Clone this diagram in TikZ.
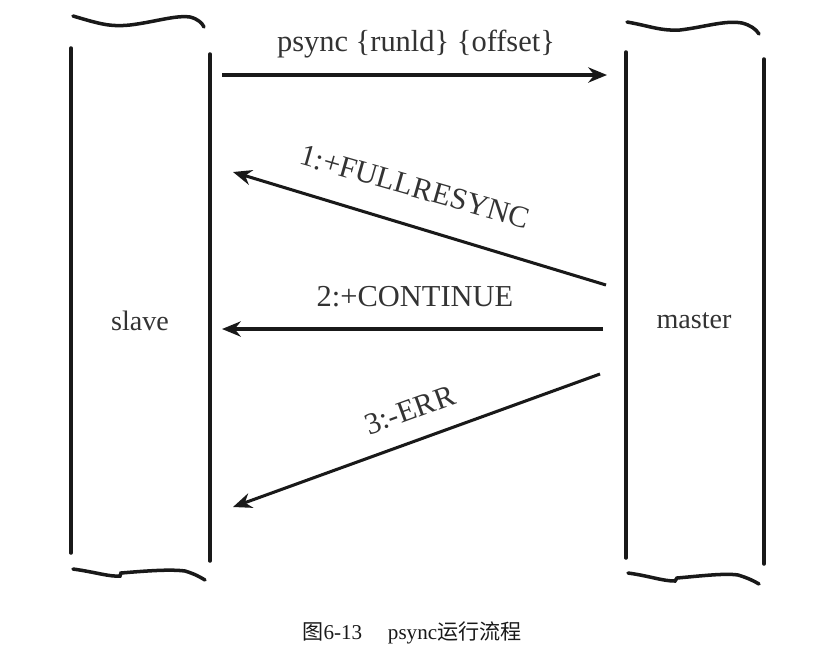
\documentclass[tikz,border=0pt]{standalone}
\usepackage{fontspec}
\setmainfont{Liberation Serif}
\newfontfamily\cjk{Noto Sans CJK SC}
\usetikzlibrary{arrows.meta}

\begin{document}
\begin{tikzpicture}[
  x=0.03cm, y=-0.03cm,
  >={Stealth[length=16pt, width=13pt]},
  scroll/.style={line width=3pt, line cap=round, black!90},
  msg/.style={line width=2.6pt, black!90, ->},
  lbl/.style={font=\fontsize{24}{28}\selectfont, text=black!80, inner sep=2pt},
  msglbl/.style={lbl, font=\fontsize{26}{30}\selectfont},
  caption/.style={font=\fontsize{18}{22}\selectfont, text=black!90}
]
\useasboundingbox (0,0) rectangle (820,660);

% Slave scroll
\draw[scroll] (73,16) .. controls (100,24) and (110,27) .. (130,25)
  .. controls (155,22) and (175,15) .. (190,17) .. controls (198,19) and (202,23) .. (204,27);
\draw[scroll] (71,48) -- (71,553);
\draw[scroll] (210,54) -- (210,561);
\draw[scroll] (73,569) .. controls (95,572) and (110,577) .. (120,576) -- (121,573)
  .. controls (145,571) and (170,569) .. (185,571) .. controls (195,574) and (200,577) .. (205,580);

% Master scroll
\draw[scroll] (627,22) .. controls (650,26) and (660,31) .. (680,30)
  .. controls (705,27) and (725,20) .. (742,23) .. controls (750,25) and (756,29) .. (759,34);
\draw[scroll] (626,52) -- (626,558);
\draw[scroll] (764,59) -- (764,564);
\draw[scroll] (628,573) .. controls (650,576) and (662,581) .. (675,581) -- (677,578)
  .. controls (700,576) and (725,573) .. (738,575) .. controls (748,578) and (754,581) .. (759,584);

% Side labels
\node[lbl] (slave) at (140,321) {slave};
\node[lbl] (master) at (694,321) {master};

% Message end points
\coordinate (s0) at (222,75);   \coordinate (m0) at (607,75);
\coordinate (s1) at (233,172);  \coordinate (m1) at (606,285);
\coordinate (s2) at (222,329);  \coordinate (m2) at (603,329);
\coordinate (s3) at (233,507);  \coordinate (m3) at (600,374);

% Messages
\draw[msg] (s0) -- (m0);
\draw[msg] (m1) -- (s1);
\draw[msg] (m2) -- (s2);
\draw[msg] (m3) -- (s3);

\node[msglbl] (req) at (416,44) {psync \{runld\} \{offset\}};
\node[msglbl, rotate=-16] (full) at (415,187) {1:+FULLRESYNC};
\node[msglbl] (cont) at (415,297) {2:+CONTINUE};
\node[msglbl, rotate=20] (err) at (410,410) {3:-ERR};

% Caption
\node[caption] (cap) at (412,633) {{\cjk 图}6-13\hspace{22pt}psync{\cjk 运行流程}};
\end{tikzpicture}
\end{document}
